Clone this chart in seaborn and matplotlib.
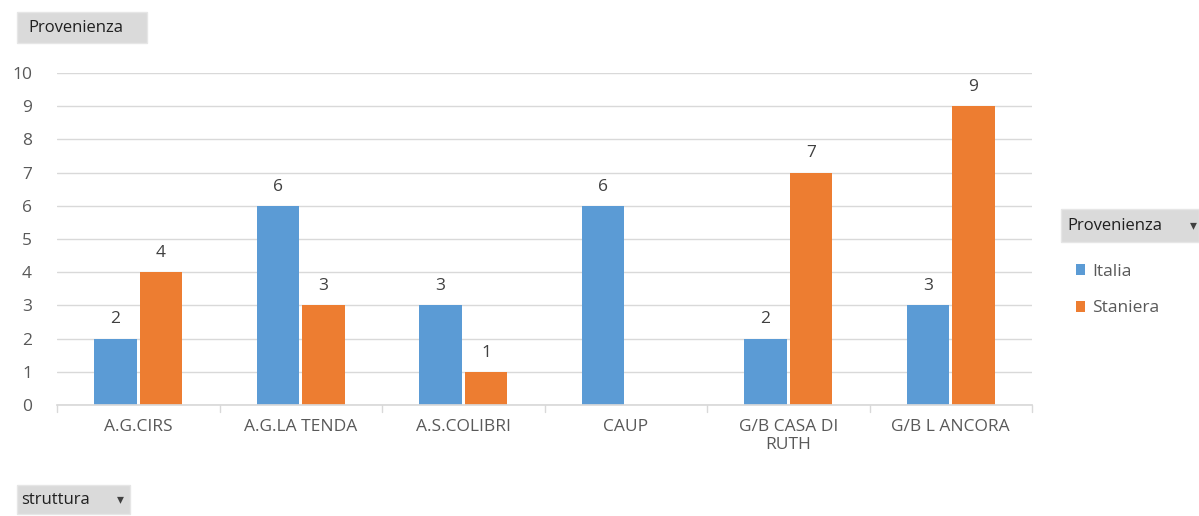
import matplotlib
matplotlib.use("Agg")
import matplotlib.pyplot as plt
import seaborn as sns
import pandas as pd
from matplotlib.patches import Patch, Rectangle

categories = ["A.G.CIRS", "A.G.LA TENDA", "A.S.COLIBRI", "CAUP", "G/B CASA DI\nRUTH", "G/B L ANCORA"]
italia = [2, 6, 3, 6, 2, 3]
staniera = [4, 3, 1, 0, 7, 9]
series = ["Italia", "Staniera"]
colors = ["#5B9BD5", "#ED7D31"]

rows = []
for c, a, b in zip(categories, italia, staniera):
    rows.append({"struttura": c, "Provenienza": "Italia", "val": a})
    rows.append({"struttura": c, "Provenienza": "Staniera", "val": b})
df = pd.DataFrame(rows)

sns.set_theme(style="white")
plt.rcParams['font.family'] = ['Open Sans', 'DejaVu Sans']

W, H = 1199, 516
fig = plt.figure(figsize=(W/100, H/100), dpi=100)
ax = fig.add_axes([57/W, 1-405/H, (1032-57)/W, (405-73)/H])

sns.barplot(data=df, x="struttura", y="val", hue="Provenienza", palette=colors,
            width=0.56, gap=0.06, ax=ax, legend=False, saturation=1, linewidth=0)

ax.set_ylim(0, 10)
ax.set_xlim(-0.5, len(categories) - 0.5)
ax.set_yticks(range(0, 11))
ax.grid(axis="y", color="#D9D9D9", linewidth=1)
ax.set_axisbelow(True)
for s in ["top", "right", "left"]:
    ax.spines[s].set_visible(False)
ax.spines["bottom"].set_color("#D9D9D9")
ax.set_xlabel("")
ax.set_ylabel("")
ax.tick_params(axis="y", length=0, labelsize=12.5, labelcolor="#595959", pad=18)
ax.tick_params(axis="x", length=0, labelsize=12.5, labelcolor="#595959", pad=10)
# category boundary ticks
for i in range(len(categories) + 1):
    ax.plot([i - 0.5, i - 0.5], [0, -0.2], color="#D9D9D9", lw=1, clip_on=False)

for cont in ax.containers:
    for bar in cont:
        h = bar.get_height()
        if h > 0:
            ax.annotate(f"{int(h)}", (bar.get_x() + bar.get_width()/2, h),
                        xytext=(0, 8), textcoords="offset points", ha="center",
                        va="bottom", fontsize=12.5, color="#404040")

def button(x0, y0, x1, y1, text, tx, arrow_x=None):
    fig.patches.append(Rectangle((x0/W, 1-y1/H), (x1-x0)/W, (y1-y0)/H,
                                 transform=fig.transFigure, facecolor="#DADADA",
                                 edgecolor="#E6E6E6", lw=1, zorder=0))
    fig.text(tx/W, 1-(y0+y1)/2/H, text, fontsize=12, color="#202020",
             va="center", ha="left")
    if arrow_x is not None:
        fig.text(arrow_x/W, 1-(y0+y1)/2/H, "\u25BE", fontsize=10, color="#404040",
                 va="center", ha="center", family="DejaVu Sans")

button(17, 12, 147, 43, "Provenienza", 28)
button(1061, 209, 1199, 242, "Provenienza", 1067, 1193)
button(17, 485, 130, 514, "struttura", 21, 120)

# legend
handles = [Patch(facecolor=c, edgecolor="none") for c in colors]
leg = fig.legend(handles, series, loc="upper left", bbox_to_anchor=(1060/W, 1-248/H),
                 frameon=False, fontsize=12.5, handlelength=0.55, handleheight=0.55,
                 handletextpad=0.4, labelspacing=1.2, labelcolor="#595959")

fig.savefig("out.png", dpi=100)
